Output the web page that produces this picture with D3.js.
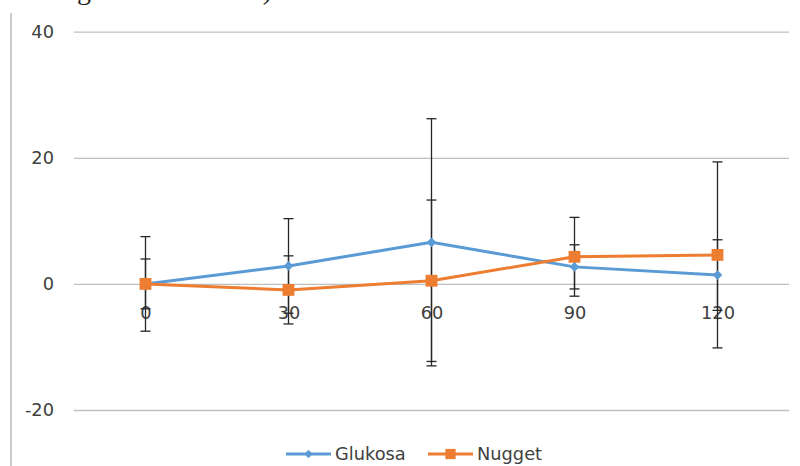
<!DOCTYPE html>
<html><head><meta charset="utf-8">
<script src="https://cdn.jsdelivr.net/npm/d3@7"></script>
<style>
body{margin:0;background:#fff;}
svg{display:block;font-family:"DejaVu Sans",sans-serif;}
</style>
</head><body><svg id="c" width="800" height="466"></svg>
<script>
const categories = ["0", "30", "60", "90", "120"];
const seriesNames = ["Glukosa", "Nugget"];
const glukosa = [0, 2.85, 6.6, 2.7, 1.4];
const nugget = [0, -0.95, 0.5, 4.3, 4.6];
const glukosaErr = [7.5, 7.5, 19.6, 3.5, 5.6];
const nuggetErr = [3.95, 5.4, 12.8, 6.25, 14.75];
const yTicks = [-20, 0, 20, 40];
const seriesColors = ["#5B9BD5", "#ED7D31"];
const captionText = "gula darah selama 120 menit)";

const series = [
  {name: seriesNames[0], values: glukosa, err: glukosaErr, color: seriesColors[0], shape: d3.symbolDiamond2, size: 60},
  {name: seriesNames[1], values: nugget, err: nuggetErr, color: seriesColors[1], shape: d3.symbolSquare, size: 140}
];

const svg = d3.select("#c");
const plotLeft = 74, plotRight = 789, plotTop = 31.7, plotBottom = 410;
const fontSize = 17.8;
const fontFam = "DejaVu Sans, sans-serif";

// page decoration from document
svg.append("line").attr("x1", 11).attr("x2", 11).attr("y1", 13).attr("y2", 466)
  .attr("stroke", "#a6a6a6").attr("stroke-width", 1.2);
svg.append("text").attr("x", 77).attr("y", -1)
  .attr("font-family", "Liberation Serif, serif").attr("font-size", 28)
  .attr("textLength", 195).attr("lengthAdjust", "spacing")
  .attr("fill", "#222").text(captionText);

const x = d3.scaleBand().domain(categories).range([plotLeft, plotRight]).paddingInner(0).paddingOuter(0);
const y = d3.scaleLinear().domain([-20, 40]).range([plotBottom, plotTop]);
const cx = c => x(c) + x.bandwidth() / 2;

// y axis with gridlines
const yAxis = svg.append("g").attr("transform", `translate(${plotLeft},0)`)
  .call(d3.axisLeft(y).tickValues(yTicks).tickSize(-(plotRight - plotLeft)).tickPadding(20).tickFormat(d => String(d)));
yAxis.select(".domain").remove();
yAxis.selectAll(".tick line").attr("stroke", "#bfbfbf").attr("stroke-width", 1.3);
yAxis.selectAll(".tick text").attr("fill", "#404040").attr("font-size", fontSize).attr("font-family", fontFam);

// x axis labels at y=0
const xAxis = svg.append("g").attr("transform", `translate(0,${y(0)})`)
  .call(d3.axisBottom(d3.scalePoint().domain(categories).range([cx(categories[0]), cx(categories[categories.length-1])]))
    .tickSize(0).tickPadding(22));
xAxis.select(".domain").remove();
xAxis.selectAll(".tick text").attr("fill", "#404040").attr("font-size", fontSize).attr("font-family", fontFam);

// error bars
const capW = 5;
series.forEach(s => {
  const g = svg.append("g").attr("stroke", "#262626").attr("stroke-width", 1.3);
  categories.forEach((c, i) => {
    const px = cx(c), hi = y(s.values[i] + s.err[i]), lo = y(s.values[i] - s.err[i]);
    g.append("line").attr("x1", px).attr("x2", px).attr("y1", hi).attr("y2", lo);
    g.append("line").attr("x1", px - capW).attr("x2", px + capW).attr("y1", hi).attr("y2", hi);
    g.append("line").attr("x1", px - capW).attr("x2", px + capW).attr("y1", lo).attr("y2", lo);
  });
});

// lines and markers
const line = d3.line().x((d, i) => cx(categories[i])).y(d => y(d));
series.forEach(s => {
  svg.append("path").datum(s.values).attr("d", line).attr("fill", "none")
    .attr("stroke", s.color).attr("stroke-width", 3).attr("stroke-linejoin", "round");
  svg.append("g").selectAll("path").data(s.values).join("path")
    .attr("transform", (d, i) => `translate(${cx(categories[i])},${y(d)})`)
    .attr("d", d3.symbol().type(s.shape).size(s.size))
    .attr("fill", s.color);
});

// legend
const legendItems = [{lx: 286, tx: 335}, {lx: 428, tx: 477}];
const ly = 454;
series.forEach((s, i) => {
  const it = legendItems[i];
  svg.append("line").attr("x1", it.lx).attr("x2", it.lx + 45).attr("y1", ly).attr("y2", ly)
    .attr("stroke", s.color).attr("stroke-width", 3);
  svg.append("path").attr("transform", `translate(${it.lx + 22.5},${ly})`)
    .attr("d", d3.symbol().type(s.shape).size(s.size * 0.75)).attr("fill", s.color);
  svg.append("text").attr("x", it.tx).attr("y", ly).attr("dy", "0.35em")
    .attr("font-size", fontSize).attr("fill", "#404040").attr("font-family", fontFam).text(s.name);
});
</script>
</body></html>
